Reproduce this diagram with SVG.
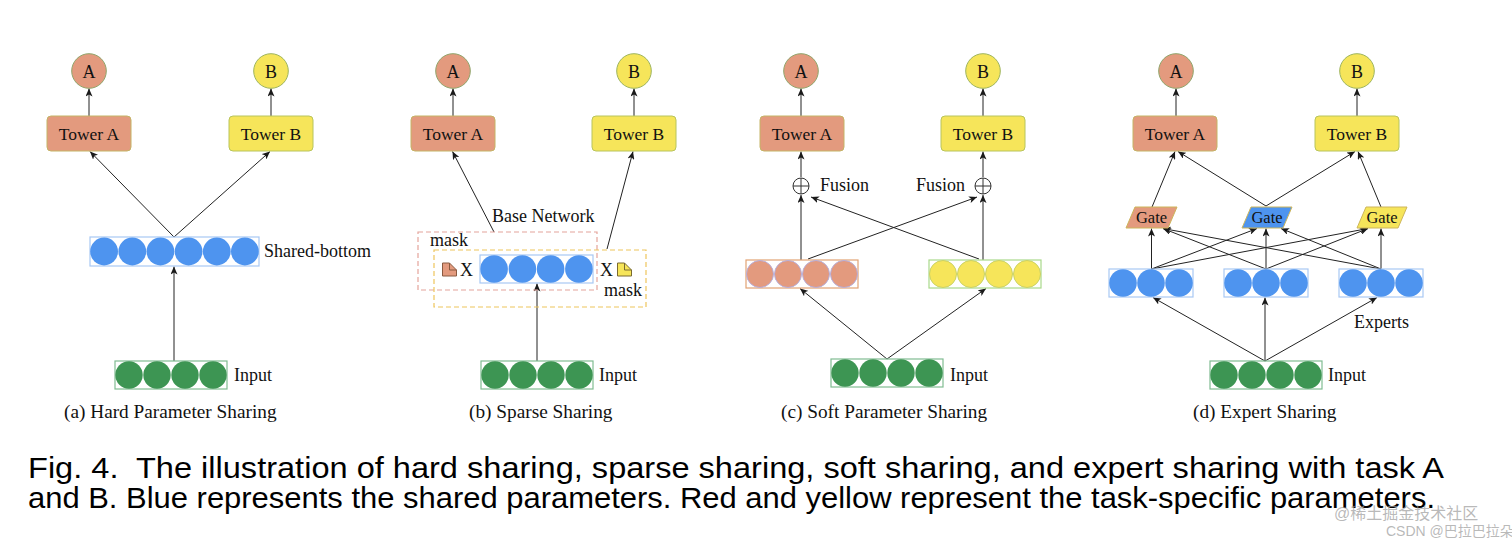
<svg xmlns="http://www.w3.org/2000/svg" width="1512" height="543" viewBox="0 0 1512 543">
<defs>
<marker id="ah" markerUnits="userSpaceOnUse" markerWidth="8" markerHeight="7" refX="8" refY="3.5" orient="auto">
<path d="M0,0 L8,3.5 L0,7 L2,3.5 z" fill="#1a1a1a"/>
</marker>
<style>
.t{font-family:"Liberation Serif","Times New Roman",serif;fill:#111}
.lbl{font-size:18px}
.tw{font-size:17.5px;text-anchor:middle}
.cl{font-size:18px;text-anchor:middle}
.cap{font-size:19.3px}
.salmon{fill:#E39A7E}
.yel{fill:#F6E55A}
.tA{fill:#E39A7E;stroke:#C4B466;stroke-width:1}
.tB{fill:#F6E55A;stroke:#B8C45C;stroke-width:1}
.oA{fill:#E39A7E;stroke:#8FA56A;stroke-width:1}
.oB{fill:#F6E55A;stroke:#9DB45E;stroke-width:1}
.bbox{fill:none;stroke:#A8C8F4;stroke-width:1.2}
.gbox{fill:none;stroke:#80BC92;stroke-width:1.2}
.bc{fill:#4E94EF}
.gc{fill:#3D9553}
.ln{stroke:#222;stroke-width:1;fill:none}
.ar{stroke:#222;stroke-width:1;fill:none;marker-end:url(#ah)}
.gate{stroke:#CDB55A;stroke-width:1}
.fc{font-family:"Liberation Sans",Arial,sans-serif;font-size:29px;fill:#000;white-space:pre}
.wm{font-family:"Liberation Sans","Noto Sans CJK SC",sans-serif;fill:#9a9a9a;fill-opacity:0.7}
</style>
</defs>
<rect width="1512" height="543" fill="#fff"/>

<!-- Connectors -->
<g id="connectors">
<!-- (a) -->
<line class="ar" x1="89" y1="116" x2="89" y2="88.5"/>
<line class="ar" x1="271" y1="116" x2="271" y2="88.5"/>
<line class="ar" x1="174" y1="237" x2="90" y2="151.5"/>
<line class="ar" x1="174" y1="237" x2="270" y2="151.5"/>
<line class="ar" x1="174" y1="361" x2="174" y2="266.5"/>
<!-- (b) -->
<line class="ar" x1="453" y1="116" x2="453" y2="88.5"/>
<line class="ar" x1="634" y1="116" x2="634" y2="88.5"/>
<line class="ar" x1="494" y1="232" x2="452.5" y2="151.5"/>
<line class="ar" x1="607" y1="249" x2="633" y2="151.5"/>
<line class="ar" x1="537" y1="361" x2="537" y2="283.5"/>
<!-- (c) -->
<line class="ar" x1="801" y1="116" x2="801" y2="88.5"/>
<line class="ar" x1="983" y1="116" x2="983" y2="88.5"/>
<line class="ar" x1="801" y1="177" x2="801" y2="151.5"/>
<line class="ar" x1="983" y1="177" x2="983" y2="151.5"/>
<line class="ar" x1="801" y1="260" x2="801" y2="195"/>
<line class="ar" x1="983" y1="260" x2="983" y2="195"/>
<line class="ar" x1="808" y1="259" x2="977" y2="197"/>
<line class="ar" x1="979" y1="259" x2="811" y2="197"/>
<line class="ar" x1="887" y1="359" x2="800" y2="288.5"/>
<line class="ar" x1="887" y1="359" x2="986" y2="288.5"/>
<!-- (d) -->
<line class="ar" x1="1176" y1="116" x2="1176" y2="88.5"/>
<line class="ar" x1="1357" y1="116" x2="1357" y2="88.5"/>
<line class="ar" x1="1152" y1="207" x2="1175" y2="151.5"/>
<line class="ar" x1="1266" y1="206" x2="1178" y2="151.5"/>
<line class="ar" x1="1266" y1="206" x2="1355" y2="151.5"/>
<line class="ar" x1="1381" y1="207" x2="1358" y2="151.5"/>
<line class="ar" x1="1151.5" y1="269" x2="1151.5" y2="228.5"/>
<line class="ar" x1="1266" y1="269" x2="1163" y2="228.5"/>
<line class="ar" x1="1381" y1="269" x2="1163" y2="228.5"/>
<line class="ar" x1="1151.5" y1="269" x2="1257" y2="228.5"/>
<line class="ar" x1="1266" y1="269" x2="1266" y2="228.5"/>
<line class="ar" x1="1381" y1="269" x2="1281" y2="228.5"/>
<line class="ar" x1="1151.5" y1="269" x2="1368" y2="228.5"/>
<line class="ar" x1="1266" y1="269" x2="1368" y2="228.5"/>
<line class="ar" x1="1381" y1="269" x2="1381" y2="228.5"/>
<line class="ar" x1="1265" y1="361" x2="1153" y2="297.5"/>
<line class="ar" x1="1265" y1="361" x2="1265" y2="297.5"/>
<line class="ar" x1="1265" y1="361" x2="1377" y2="297.5"/>
</g>

<!-- Panel (a) -->
<g id="a-outA"><circle class="oA" cx="89" cy="71" r="17.3"/><text class="t cl" x="89" y="77.5">A</text></g>
<g id="a-outB"><circle class="oB" cx="271" cy="71" r="17.3"/><text class="t cl" x="271" y="77.5">B</text></g>
<g id="a-towerA"><rect class="tA" x="47" y="116" width="84" height="35" rx="4"/><text class="t tw" x="89" y="140">Tower A</text></g>
<g id="a-towerB"><rect class="tB" x="229" y="116" width="84" height="35" rx="4"/><text class="t tw" x="271" y="140">Tower B</text></g>
<g id="a-shared">
<rect class="bbox" x="90" y="237" width="169" height="29"/>
<circle class="bc" cx="104.1" cy="251.5" r="13.9"/><circle class="bc" cx="132.3" cy="251.5" r="13.9"/><circle class="bc" cx="160.4" cy="251.5" r="13.9"/><circle class="bc" cx="188.6" cy="251.5" r="13.9"/><circle class="bc" cx="216.8" cy="251.5" r="13.9"/><circle class="bc" cx="244.9" cy="251.5" r="13.9"/>
<text class="t lbl" x="264" y="257">Shared-bottom</text>
</g>
<g id="a-input">
<rect class="gbox" x="115" y="361" width="112" height="28"/>
<circle class="gc" cx="129" cy="375" r="13.7"/><circle class="gc" cx="157" cy="375" r="13.7"/><circle class="gc" cx="185" cy="375" r="13.7"/><circle class="gc" cx="213" cy="375" r="13.7"/>
<text class="t lbl" x="234" y="381">Input</text>
</g>
<text class="t cap" x="64" y="418">(a) Hard Parameter Sharing</text>

<!-- Panel (b) -->
<g id="b-outA"><circle class="oA" cx="453" cy="71" r="17.3"/><text class="t cl" x="453" y="77.5">A</text></g>
<g id="b-outB"><circle class="oB" cx="634" cy="71" r="17.3"/><text class="t cl" x="634" y="77.5">B</text></g>
<g id="b-towerA"><rect class="tA" x="411" y="116" width="84" height="35" rx="4"/><text class="t tw" x="453" y="140">Tower A</text></g>
<g id="b-towerB"><rect class="tB" x="592" y="116" width="84" height="35" rx="4"/><text class="t tw" x="634" y="140">Tower B</text></g>
<g id="b-base">
<text class="t lbl" x="492" y="222">Base Network</text>
<rect x="418" y="232" width="179" height="58" fill="none" stroke="#E4A49B" stroke-width="1.2" stroke-dasharray="5,3"/>
<rect x="434" y="250" width="212" height="57" fill="none" stroke="#EEC55C" stroke-width="1.2" stroke-dasharray="5,3"/>
<text class="t lbl" x="430" y="246">mask</text>
<path d="M442.5,263 h7 l7,7 v6 h-14 z" fill="#E39A7E" stroke="#8a5a40" stroke-width="1"/>
<path d="M449.5,263 v7 h7" fill="none" stroke="#8a5a40" stroke-width="1"/>
<text class="t lbl" x="460" y="276">X</text>
<rect class="bbox" x="480" y="255" width="113" height="28"/>
<circle class="bc" cx="494.1" cy="269" r="13.8"/><circle class="bc" cx="522.4" cy="269" r="13.8"/><circle class="bc" cx="550.6" cy="269" r="13.8"/><circle class="bc" cx="578.9" cy="269" r="13.8"/>
<text class="t lbl" x="600" y="276">X</text>
<path d="M617.5,263 h7 l7,7 v6 h-14 z" fill="#F6E55A" stroke="#7a6a30" stroke-width="1"/>
<path d="M624.5,263 v7 h7" fill="none" stroke="#7a6a30" stroke-width="1"/>
<text class="t lbl" x="604" y="296">mask</text>
</g>
<g id="b-input">
<rect class="gbox" x="481" y="361" width="112" height="28"/>
<circle class="gc" cx="495" cy="375" r="13.7"/><circle class="gc" cx="523" cy="375" r="13.7"/><circle class="gc" cx="551" cy="375" r="13.7"/><circle class="gc" cx="579" cy="375" r="13.7"/>
<text class="t lbl" x="599" y="381">Input</text>
</g>
<text class="t cap" x="469" y="418">(b) Sparse Sharing</text>

<!-- Panel (c) -->
<g id="c-outA"><circle class="oA" cx="801" cy="71" r="17.3"/><text class="t cl" x="801" y="77.5">A</text></g>
<g id="c-outB"><circle class="oB" cx="983" cy="71" r="17.3"/><text class="t cl" x="983" y="77.5">B</text></g>
<g id="c-towerA"><rect class="tA" x="760" y="116" width="84" height="35" rx="4"/><text class="t tw" x="802" y="140">Tower A</text></g>
<g id="c-towerB"><rect class="tB" x="941" y="116" width="84" height="35" rx="4"/><text class="t tw" x="983" y="140">Tower B</text></g>
<g id="c-fusionA">
<circle cx="801" cy="186" r="8" fill="#fff" stroke="#333" stroke-width="1"/>
<path d="M793,186 h16 M801,178 v16" stroke="#333" stroke-width="1"/>
<text class="t lbl" x="820" y="191">Fusion</text>
</g>
<g id="c-fusionB">
<circle cx="983" cy="186" r="8" fill="#fff" stroke="#333" stroke-width="1"/>
<path d="M975,186 h16 M983,178 v16" stroke="#333" stroke-width="1"/>
<text class="t lbl" x="916" y="191">Fusion</text>
</g>
<g id="c-netA">
<rect x="746" y="260" width="112" height="28" fill="none" stroke="#E2A273" stroke-width="1.2"/>
<circle class="salmon" cx="760" cy="274" r="13.5" stroke="#B7AEDB" stroke-width="1"/><circle class="salmon" cx="788" cy="274" r="13.5" stroke="#B7AEDB" stroke-width="1"/><circle class="salmon" cx="816" cy="274" r="13.5" stroke="#B7AEDB" stroke-width="1"/><circle class="salmon" cx="844" cy="274" r="13.5" stroke="#B7AEDB" stroke-width="1"/>
</g>
<g id="c-netB">
<rect x="929" y="260" width="112" height="28" fill="none" stroke="#A9D98B" stroke-width="1.2"/>
<circle class="yel" cx="943" cy="274" r="13.5" stroke="#C9D265" stroke-width="1"/><circle class="yel" cx="971" cy="274" r="13.5" stroke="#C9D265" stroke-width="1"/><circle class="yel" cx="999" cy="274" r="13.5" stroke="#C9D265" stroke-width="1"/><circle class="yel" cx="1027" cy="274" r="13.5" stroke="#C9D265" stroke-width="1"/>
</g>
<g id="c-input">
<rect class="gbox" x="831" y="359" width="112" height="28"/>
<circle class="gc" cx="845" cy="373" r="13.7"/><circle class="gc" cx="873" cy="373" r="13.7"/><circle class="gc" cx="901" cy="373" r="13.7"/><circle class="gc" cx="929" cy="373" r="13.7"/>
<text class="t lbl" x="950" y="381">Input</text>
</g>
<text class="t cap" x="781" y="418">(c) Soft Parameter Sharing</text>

<!-- Panel (d) -->
<g id="d-outA"><circle class="oA" cx="1176" cy="71" r="17.3"/><text class="t cl" x="1176" y="77.5">A</text></g>
<g id="d-outB"><circle class="oB" cx="1357" cy="71" r="17.3"/><text class="t cl" x="1357" y="77.5">B</text></g>
<g id="d-towerA"><rect class="tA" x="1133" y="116" width="84" height="35" rx="4"/><text class="t tw" x="1175" y="140">Tower A</text></g>
<g id="d-towerB"><rect class="tB" x="1315" y="116" width="84" height="35" rx="4"/><text class="t tw" x="1357" y="140">Tower B</text></g>
<g id="d-gate1"><polygon class="gate" points="1135,207 1177,207 1168,228 1126,228" fill="#E39A7E"/><text class="t" x="1151.5" y="223" font-size="16.5" text-anchor="middle">Gate</text></g>
<g id="d-gate2"><polygon class="gate" points="1251,207 1292,207 1283,228 1242,228" fill="#4E94EF"/><text class="t" x="1267" y="223" font-size="16.5" text-anchor="middle">Gate</text></g>
<g id="d-gate3"><polygon class="gate" points="1366,207 1407,207 1398,228 1357,228" fill="#F6E55A"/><text class="t" x="1382" y="223" font-size="16.5" text-anchor="middle">Gate</text></g>
<g id="d-expert1">
<rect class="bbox" x="1109" y="269" width="84" height="28"/>
<circle class="bc" cx="1123" cy="283" r="13.8"/><circle class="bc" cx="1151" cy="283" r="13.8"/><circle class="bc" cx="1179" cy="283" r="13.8"/>
</g>
<g id="d-expert2">
<rect class="bbox" x="1224" y="269" width="84" height="28"/>
<circle class="bc" cx="1238" cy="283" r="13.8"/><circle class="bc" cx="1266" cy="283" r="13.8"/><circle class="bc" cx="1294" cy="283" r="13.8"/>
</g>
<g id="d-expert3">
<rect class="bbox" x="1339" y="269" width="84" height="28"/>
<circle class="bc" cx="1353" cy="283" r="13.8"/><circle class="bc" cx="1381" cy="283" r="13.8"/><circle class="bc" cx="1409" cy="283" r="13.8"/>
<text class="t lbl" x="1354" y="328">Experts</text>
</g>
<g id="d-input">
<rect class="gbox" x="1210" y="361" width="112" height="28"/>
<circle class="gc" cx="1224" cy="375" r="13.7"/><circle class="gc" cx="1252" cy="375" r="13.7"/><circle class="gc" cx="1280" cy="375" r="13.7"/><circle class="gc" cx="1308" cy="375" r="13.7"/>
<text class="t lbl" x="1328" y="381">Input</text>
</g>
<text class="t cap" x="1193" y="418">(d) Expert Sharing</text>

<!-- Caption -->
<text class="fc" x="28" y="478" textLength="1416" lengthAdjust="spacingAndGlyphs">Fig. 4.  The illustration of hard sharing, sparse sharing, soft sharing, and expert sharing with task A</text>
<text class="fc" x="28" y="508" textLength="1407" lengthAdjust="spacingAndGlyphs">and B. Blue represents the shared parameters. Red and yellow represent the task-specific parameters.</text>

<!-- Watermark -->
<text class="wm" x="1334" y="519" font-size="16">@稀土掘金技术社区</text>
<text class="wm" x="1386" y="536" font-size="14">CSDN @巴拉巴拉朵</text>
</svg>
